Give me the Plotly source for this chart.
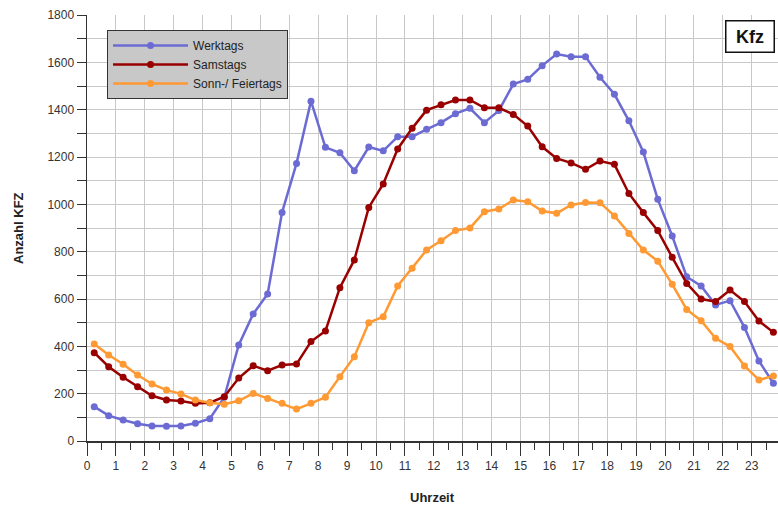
import plotly.graph_objects as go

hours = [i * 0.5 + 0.25 for i in range(48)]

werktags = [145, 107, 89, 73, 63, 62, 63, 75, 94, 185, 406, 537, 621, 966, 1173, 1436,
            1241, 1218, 1142, 1242, 1226, 1286, 1286, 1317, 1345, 1383, 1406, 1345,
            1396, 1508, 1528, 1586, 1635, 1624, 1624, 1537, 1465, 1353, 1221, 1021,
            866, 694, 655, 575, 593, 480, 338, 244]

samstags = [373, 314, 269, 229, 191, 173, 169, 159, 162, 187, 266, 318, 297, 321, 325, 420,
            465, 648, 765, 987, 1086, 1234, 1321, 1398, 1421, 1441, 1441, 1408, 1408,
            1380, 1331, 1243, 1194, 1175, 1148, 1183, 1169, 1046, 965, 889, 776, 666,
            600, 589, 638, 589, 507, 459]

sonntags = [410, 363, 324, 279, 241, 215, 199, 173, 162, 155, 170, 201, 180, 159, 135, 159,
            185, 272, 356, 500, 525, 655, 730, 807, 846, 889, 900, 969, 980, 1018, 1011,
            972, 962, 997, 1008, 1007, 951, 877, 807, 760, 662, 556, 508, 434, 399, 317,
            258, 275]

series_names = ["Werktags", "Samstags", "Sonn-/ Feiertags"]
series_colors = ["#6b6bd3", "#990000", "#ff9933"]
series_values = [werktags, samstags, sonntags]

x_tickvals = list(range(0, 25))
x_ticktext = [str(h % 24) for h in x_tickvals]

FONT = "Arial, 'Liberation Sans', sans-serif"

fig = go.Figure()
for name, col, vals in zip(series_names, series_colors, series_values):
    fig.add_trace(go.Scatter(
        x=hours, y=vals, name=name, mode="lines+markers",
        line=dict(color=col, width=2.5),
        marker=dict(color=col, size=7),
        cliponaxis=False,
    ))

fig.update_layout(
    width=778, height=505,
    margin=dict(l=87, r=0, t=15, b=64),
    paper_bgcolor="white", plot_bgcolor="white",
    font=dict(family=FONT, size=12, color="#333333"),
    showlegend=True,
    legend=dict(
        x=0.029, y=0.965, xanchor="left", yanchor="top",
        bgcolor="#c8c8c8", bordercolor="#333333", borderwidth=1,
        font=dict(family=FONT, size=12, color="#222222"),
        itemwidth=75, tracegroupgap=0,
    ),
    xaxis=dict(
        range=[0, 23.91], tickmode="array", tickvals=x_tickvals, ticktext=x_ticktext,
        showgrid=True, gridcolor="#c8c8c8", gridwidth=1,
        ticks="outside", ticklen=13, tickcolor="#333333", tickwidth=1,
        showline=True, linecolor="#333333", linewidth=1.5,
        zeroline=False, tickfont=dict(size=12, color="#333333"),
        minor=dict(dtick=0.5, tick0=0, ticks="outside", ticklen=7,
                   tickcolor="#333333", showgrid=False),
        fixedrange=True,
    ),
    yaxis=dict(
        range=[0, 1800], dtick=200, tick0=0,
        showgrid=True, gridcolor="#c8c8c8", gridwidth=1,
        ticks="outside", ticklen=9, tickcolor="#333333",
        showline=True, linecolor="#333333", linewidth=1.5,
        zeroline=False, tickfont=dict(size=12, color="#333333"),
        minor=dict(dtick=100, tick0=0, ticks="outside", ticklen=9,
                   tickcolor="#333333", showgrid=True, gridcolor="#c8c8c8"),
        fixedrange=True,
    ),
    annotations=[
        dict(text="<b>Anzahl KFZ</b>", xref="paper", yref="paper",
             x=-0.0999, y=0.5, xanchor="center", yanchor="middle",
             textangle=-90, showarrow=False,
             font=dict(family=FONT, size=13, color="#222222")),
        dict(text="<b>Uhrzeit</b>", xref="paper", yref="paper",
             x=0.4993, y=-0.1315, xanchor="center", yanchor="middle",
             showarrow=False,
             font=dict(family=FONT, size=13, color="#222222")),
        dict(text="<b>Kfz</b>", xref="paper", yref="paper",
             x=0.9588, y=0.9495, xanchor="center", yanchor="middle",
             showarrow=False,
             width=45, height=28, borderpad=1, borderwidth=1.5,
             bordercolor="#111111", bgcolor="white",
             font=dict(family=FONT, size=18, color="#111111")),
    ],
)

fig.write_html(
    "out.html",
    config={"displayModeBar": False, "staticPlot": True},
    post_script="document.body.style.margin='0';document.body.style.overflow='hidden';",
)
